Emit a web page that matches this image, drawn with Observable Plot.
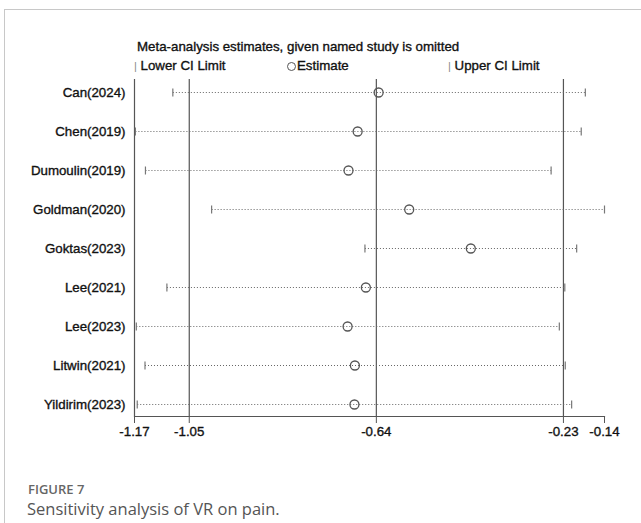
<!DOCTYPE html>
<html><head><meta charset="utf-8">
<script src="https://cdn.jsdelivr.net/npm/d3@7"></script>
<script src="https://cdn.jsdelivr.net/npm/@observablehq/plot@0.6"></script>
<style>
body{margin:0;background:#fff;}
#wrap{position:relative;width:641px;height:523px;overflow:hidden;font-family:"Liberation Sans",Arial,sans-serif;}
#frameTop{position:absolute;left:4px;top:9px;width:637px;height:0;border-top:1.5px solid #c8c8c8;}
#frameLeft{position:absolute;left:4px;top:9px;width:0;height:520px;border-left:1.5px solid #c8c8c8;}
#plot{position:absolute;left:0;top:0;}
#plot svg text{paint-order:stroke;stroke:#111;stroke-width:0.35px;}
.hdr{position:absolute;font-size:13.3px;color:#111;white-space:nowrap;line-height:1;-webkit-text-stroke:0.35px #111;}
.bar{color:#888;font-size:11px;-webkit-text-stroke:0;}
.circ{display:inline-block;width:9px;height:9px;border:1px solid #555;border-radius:50%;vertical-align:-1px;margin-right:1px;box-sizing:border-box;}
#cap1{position:absolute;left:28px;top:480px;font-family:"Open Sans",sans-serif;font-size:13px;font-weight:600;color:#666;}
#cap2{position:absolute;left:27px;top:497px;font-family:"Open Sans",sans-serif;font-size:16.5px;color:#555;}
</style></head>
<body><div id="wrap">
<div id="frameTop"></div><div id="frameLeft"></div>
<div id="plot"></div>
<div class="hdr" style="left:137px;top:40px;">Meta-analysis estimates, given named study is omitted</div>
<div class="hdr" style="left:134px;top:59px;"><span class="bar">|</span> Lower CI Limit</div>
<div class="hdr" style="left:287px;top:59px;"><span class="circ"></span>Estimate</div>
<div class="hdr" style="left:448px;top:59px;"><span class="bar">|</span> Upper CI Limit</div>
<div id="cap1">FIGURE 7</div>
<div id="cap2">Sensitivity analysis of VR on pain.</div>
</div>
<script>
const studies = ["Can(2024)","Chen(2019)","Dumoulin(2019)","Goldman(2020)","Goktas(2023)","Lee(2021)","Lee(2023)","Litwin(2021)","Yildirim(2023)"];
const lower = [-1.086,-1.168,-1.146,-1.001,-0.665,-1.099,-1.166,-1.147,-1.164];
const estimate = [-0.635,-0.681,-0.701,-0.568,-0.433,-0.663,-0.703,-0.687,-0.688];
const upper = [-0.182,-0.191,-0.257,-0.140,-0.201,-0.227,-0.239,-0.226,-0.212];
const ticks = [-1.17,-1.05,-0.64,-0.23,-0.14];
const refLines = [-1.17,-1.05,-0.64,-0.23];

const data = studies.map((s,i)=>({study:s, lo:lower[i], est:estimate[i], hi:upper[i]}));

const vbar = {draw(ctx, size){ const r = Math.sqrt(size/Math.PI); ctx.moveTo(0,-r); ctx.lineTo(0,r); }};

const chart = Plot.plot({
  width: 641, height: 440,
  marginLeft: 134, marginRight: 37, marginTop: 79, marginBottom: 24,
  style:{fontFamily:'"Liberation Sans",Arial,sans-serif', background:"transparent"},
  x:{domain:[-1.17,-0.14], label:null},
  y:{type:"point", domain:studies, padding:0.28, label:null},
  marks:[
    Plot.ruleX(refLines,{stroke:"#555",strokeWidth:1.2}),
    Plot.link(data,{x1:"lo",x2:"hi",y1:"study",y2:"study",stroke:"#666",strokeWidth:1,strokeDasharray:"1,2"}),
    Plot.dot(data,{x:"lo",y:"study",symbol:vbar,r:4,stroke:"#777",strokeWidth:1.2,fill:"none"}),
    Plot.dot(data,{x:"hi",y:"study",symbol:vbar,r:4,stroke:"#777",strokeWidth:1.2,fill:"none"}),
    Plot.dot(data,{x:"est",y:"study",r:4.5,stroke:"#555",strokeWidth:1.3,fill:"none"}),
    Plot.axisX({ticks:ticks,tickFormat:d=>d.toFixed(2),tickSize:7,fontSize:13.3,fill:"#111",stroke:"#555",tickPadding:3,anchor:"bottom",label:null}),
    Plot.axisY({tickSize:0,tickPadding:9,fontSize:13.3,fill:"#111",anchor:"left",label:null}),
    Plot.frame({anchor:"bottom",stroke:"#555",strokeWidth:1.2})
  ]
});
document.getElementById("plot").appendChild(chart);
</script>
</body></html>
